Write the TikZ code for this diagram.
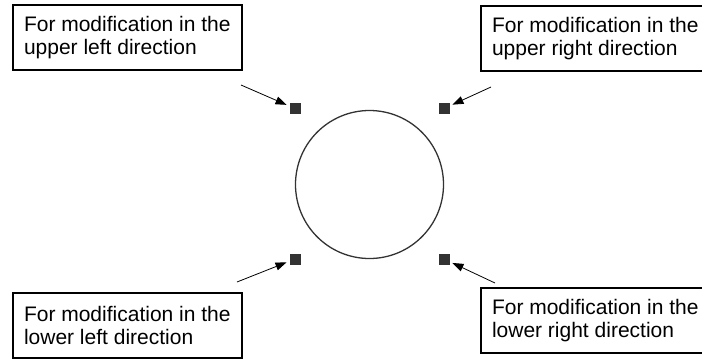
\documentclass[tikz,border=0pt]{standalone}
\usepackage{fontspec}
\setmainfont{Liberation Sans}
\usepackage{xcolor}
\usepackage{tikz}
\usetikzlibrary{arrows.meta, positioning}

\definecolor{handlegray}{HTML}{333333}

\begin{document}
\begin{tikzpicture}[x=1pt, y=-1pt, >={Triangle[length=11pt, width=8pt]},
		font=\fontsize{21pt}{23pt}\selectfont,
		hintbox/.style={draw, line width=1.6pt, anchor=north west, align=left,
			minimum width=229pt, minimum height=65pt},
		handle/.style={fill=handlegray, inner sep=0pt, minimum size=11pt},
		pointer/.style={->, line width=0.8pt, shorten >=3pt}]
			\useasboundingbox (0,0) rectangle (702,360);
			% the circle and its four handles
			\draw[handlegray, line width=1.3pt] (369.5,184.5) circle (74);
			\node[handle] (hUL) at (295,108.5) {};
			\node[handle] (hUR) at (444,108.5) {};
			\node[handle] (hLL) at (295,259) {};
			\node[handle] (hLR) at (444,259) {};
			% the four explanations
			\node[hintbox] (bUL) at (12,4) {For modification in the\\ upper left direction};
			\node[hintbox] (bUR) at (480,5) {For modification in the\\ upper right direction};
			\node[hintbox] (bLL) at (12,292) {For modification in the\\ lower left direction};
			\node[hintbox] (bLR) at (480,287) {For modification in the\\ lower right direction};
			\coordinate (sUL) at (241,85);
			\coordinate (sUR) at (491,87);
			\coordinate (sLL) at (237,282);
			\coordinate (sLR) at (495,283);
			\draw[pointer] (sUL) -- (hUL);
			\draw[pointer] (sUR) -- (hUR);
			\draw[pointer] (sLL) -- (hLL);
			\draw[pointer] (sLR) -- (hLR);
		\end{tikzpicture}
\end{document}
